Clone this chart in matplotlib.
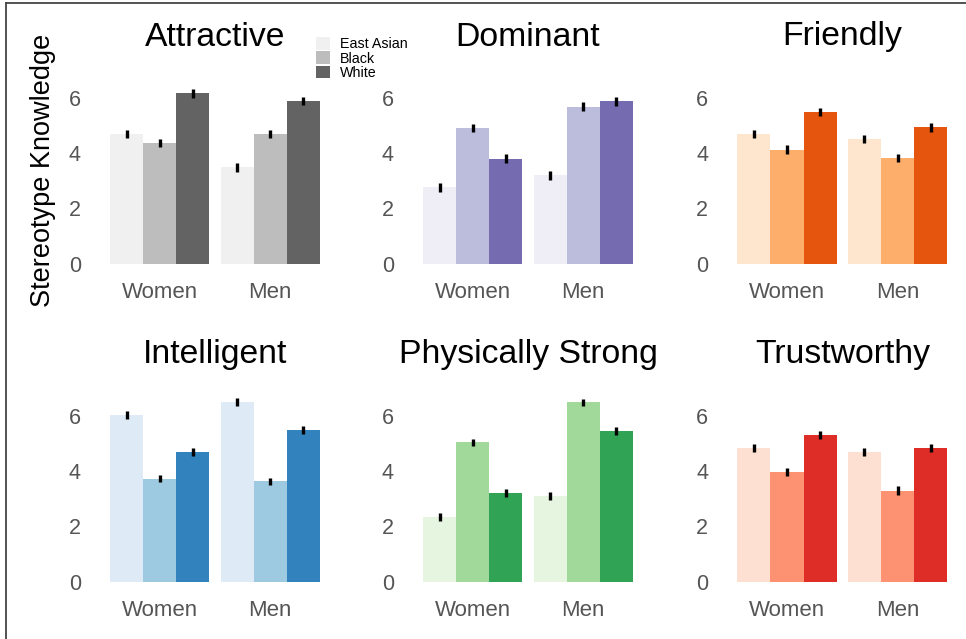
import numpy as np
import matplotlib.pyplot as plt
from matplotlib.lines import Line2D
from matplotlib.patches import Patch

plt.rcParams['font.family'] = ['Liberation Sans', 'DejaVu Sans']

targets = ["East Asian", "Black", "White"]
genders = ["Women", "Men"]

traits = ["Attractive", "Dominant", "Friendly",
          "Intelligent", "Physically Strong", "Trustworthy"]

# mean ratings, rows = East Asian / Black / White, cols = Women / Men
attractive = [[4.69, 3.48], [4.36, 4.68], [6.16, 5.88]]
dominant = [[2.76, 3.19], [4.91, 5.68], [3.80, 5.87]]
friendly = [[4.69, 4.52], [4.13, 3.83], [5.50, 4.93]]
intelligent = [[6.03, 6.51], [3.73, 3.63], [4.69, 5.49]]
strong = [[2.33, 3.10], [5.04, 6.49], [3.20, 5.44]]
trustworthy = [[4.84, 4.70], [3.97, 3.29], [5.31, 4.84]]

# standard errors
attractive_se = [[0.15, 0.16], [0.14, 0.15], [0.15, 0.15]]
dominant_se = [[0.17, 0.16], [0.15, 0.16], [0.15, 0.16]]
friendly_se = [[0.15, 0.15], [0.15, 0.15], [0.15, 0.15]]
intelligent_se = [[0.14, 0.14], [0.14, 0.13], [0.14, 0.14]]
strong_se = [[0.14, 0.15], [0.13, 0.13], [0.15, 0.14]]
trustworthy_se = [[0.15, 0.15], [0.14, 0.16], [0.15, 0.15]]

means = [attractive, dominant, friendly, intelligent, strong, trustworthy]
errors = [attractive_se, dominant_se, friendly_se,
          intelligent_se, strong_se, trustworthy_se]

palettes = [
    ["#f0f0f0", "#bdbdbd", "#636363"],  # Greys
    ["#efedf5", "#bcbddc", "#756bb1"],  # Purples
    ["#fee6ce", "#fdae6b", "#e6550d"],  # Oranges
    ["#deebf7", "#9ecae1", "#3182bd"],  # Blues
    ["#e5f5e0", "#a1d99b", "#31a354"],  # Greens
    ["#fee0d2", "#fc9272", "#de2d26"],  # Reds
]

W, H = 966, 639
fig = plt.figure(figsize=(W / 100, H / 100), dpi=100)

lefts = [104.5, 417.5, 731.8]
bottoms = [263.5, 581.5]
ax_w = 221
ymax = 7.0
unit = 27.6
ax_h = ymax * unit

group_width = 0.9
bar_w = group_width / 3
x = np.arange(len(genders))

for i, trait in enumerate(traits):
    row, col = divmod(i, 3)
    ax = fig.add_axes([lefts[col] / W, 1 - bottoms[row] / H, ax_w / W, ax_h / H])
    for k, target in enumerate(targets):
        xpos = x - group_width / 2 + bar_w * (k + 0.5)
        ax.bar(xpos, means[i][k], width=bar_w, color=palettes[i][k],
               yerr=errors[i][k], linewidth=0,
               error_kw=dict(ecolor='black', elinewidth=2.4, capsize=0))
    ax.set_xlim(-0.5, 1.5)
    ax.set_ylim(0, ymax)
    ax.set_xticks(x)
    ax.set_xticklabels(genders)
    ax.set_yticks([0, 2, 4, 6])
    ax.tick_params(axis='both', length=0, colors='#555555')
    ax.tick_params(axis='y', pad=17, labelsize=15.5)
    ax.tick_params(axis='x', pad=13, labelsize=16)
    for s in ax.spines.values():
        s.set_visible(False)
    ax.set_facecolor('white')
    title_y = 37 if row == 0 else 355
    fig.text((lefts[col] + ax_w / 2) / W, 1 - title_y / H, trait,
             ha='center', va='center', fontsize=24.3, color='black')

fig.text(43 / W, 1 - 170 / H, "Stereotype Knowledge", rotation=90,
         ha='center', va='center', fontsize=19.5, color='black')

handles = [Patch(facecolor=c, edgecolor='none') for c in palettes[0]]
fig.legend(handles, targets, loc='upper left',
           bbox_to_anchor=(316 / W, 1 - 37 / H), bbox_transform=fig.transFigure,
           frameon=False, fontsize=10.3, handlelength=1.0, handleheight=1.0,
           labelspacing=0, handletextpad=0.7, borderpad=0, borderaxespad=0)

# thin frame along top and left edge
fig.add_artist(Line2D([6 / W, 6 / W], [0, 1 - 3 / H], transform=fig.transFigure,
                      color='#444444', linewidth=1.3))
fig.add_artist(Line2D([6 / W, 1], [1 - 3 / H, 1 - 3 / H], transform=fig.transFigure,
                      color='#444444', linewidth=1.3))

fig.savefig("out.png", dpi=100)
